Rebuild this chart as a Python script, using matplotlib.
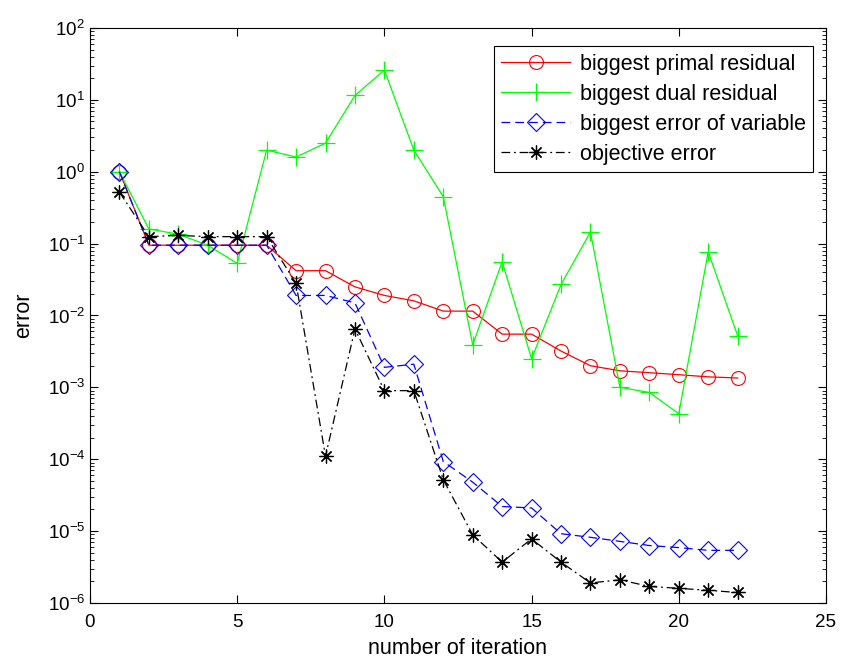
import numpy as np
import matplotlib
matplotlib.use("Agg")
import matplotlib.pyplot as plt
from matplotlib.ticker import LogLocator, NullFormatter, MultipleLocator

plt.rcParams['font.family'] = ['Liberation Sans', 'DejaVu Sans']
plt.rcParams['font.size'] = 13

iterations = np.arange(1, 23)

primal_residual = [1.0, 0.095, 0.095, 0.095, 0.095, 0.095, 0.042, 0.042, 0.025, 0.019,
                   0.016, 0.0115, 0.0115, 0.0055, 0.0055, 0.0032, 0.002, 0.0017, 0.0016,
                   0.0015, 0.0014, 0.00135]
dual_residual = [1.0, 0.16, 0.135, 0.095, 0.053, 2.0, 1.6, 2.5, 11.5, 26.0,
                 2.0, 0.45, 0.0039, 0.056, 0.0025, 0.027, 0.145, 0.001, 0.00085,
                 0.00043, 0.077, 0.0052]
variable_error = [1.0, 0.095, 0.095, 0.095, 0.095, 0.095, 0.019, 0.019, 0.015, 0.0019,
                  0.0021, 9.3e-5, 4.8e-5, 2.2e-5, 2.1e-5, 9.2e-6, 8.2e-6, 7.2e-6, 6.3e-6,
                  5.9e-6, 5.4e-6, 5.4e-6]
objective_error = [0.52, 0.125, 0.13, 0.125, 0.125, 0.125, 0.028, 1.1e-4, 0.0065, 9.0e-4,
                   9.0e-4, 5.2e-5, 8.9e-6, 3.7e-6, 7.8e-6, 3.7e-6, 1.9e-6, 2.1e-6, 1.7e-6,
                   1.6e-6, 1.5e-6, 1.4e-6]

fig = plt.figure(figsize=(8.45, 6.66), dpi=100)
ax = fig.add_axes([0.1065, 0.0946, 0.871, 0.8634])

lw = 0.9
ax.semilogy(iterations, primal_residual, color=(1, 0, 0), linestyle='-', marker='o',
            markersize=10, markerfacecolor='none', linewidth=lw, markeredgewidth=0.8,
            label="biggest primal residual")
ax.semilogy(iterations, dual_residual, color=(0, 1, 0), linestyle='-', marker='+',
            markersize=13, linewidth=lw, markeredgewidth=0.9,
            label="biggest dual residual")
ax.semilogy(iterations, variable_error, color=(0, 0, 1), linestyle=(0, (7, 4)), marker='D',
            markersize=9, markerfacecolor='none', linewidth=lw, markeredgewidth=0.8,
            label="biggest error of variable")
ax.semilogy(iterations, objective_error, color='k', linestyle=(0, (7, 3, 1.5, 3)),
            marker=(8, 2, 0), markersize=10, linewidth=lw, markeredgewidth=0.9,
            label="objective error")

ax.set_xlim(0, 25)
ax.set_ylim(1e-6, 1e2)
ax.xaxis.set_major_locator(MultipleLocator(5))
ax.yaxis.set_major_locator(LogLocator(base=10, numticks=20))
ax.yaxis.set_minor_locator(LogLocator(base=10, subs=np.arange(2, 10), numticks=20))
ax.yaxis.set_minor_formatter(NullFormatter())
ax.tick_params(which='both', direction='in', top=True, right=True)
ax.tick_params(which='major', length=6, labelsize=13.5)
ax.tick_params(axis='x', which='major', pad=8)
ax.tick_params(which='minor', length=3)
for s in ax.spines.values():
    s.set_linewidth(0.8)

ax.set_xlabel("number of iteration", fontsize=15.5, labelpad=5)
ax.set_ylabel("error", fontsize=15.5, labelpad=10)

leg = ax.legend(loc='upper right', fontsize=15.5, fancybox=False, edgecolor='k',
                framealpha=1, handlelength=3.2, handletextpad=0.45, borderpad=0.35,
                labelspacing=0.42, bbox_to_anchor=(0.9975, 0.987))
leg.get_frame().set_linewidth(0.8)

fig.savefig("out.png", dpi=100)
